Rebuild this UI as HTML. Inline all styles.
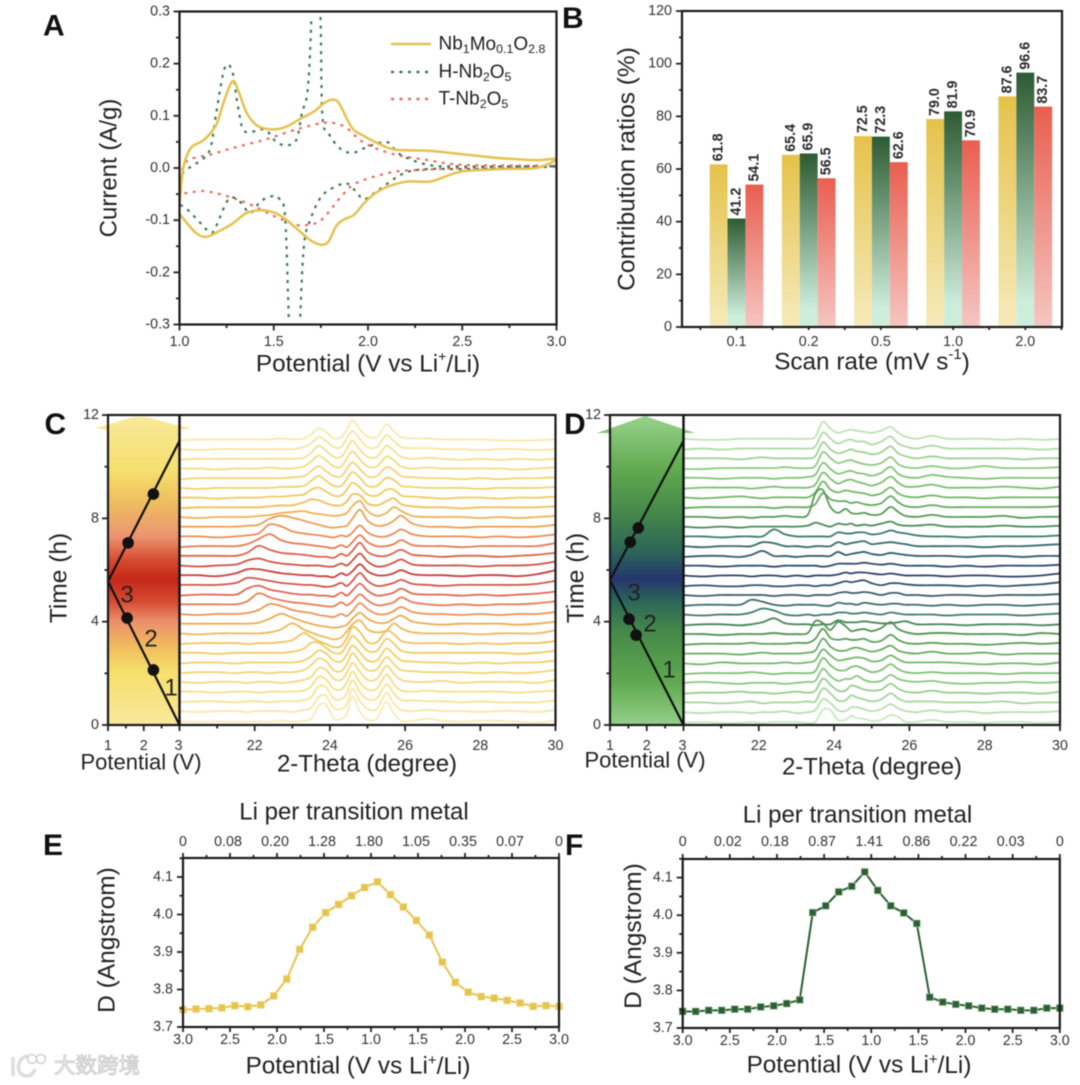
<!DOCTYPE html>
<html lang="en">
<head>
<meta charset="utf-8">
<title>Electrochemistry and in situ XRD figure</title>
<style>
html,body{margin:0;padding:0;background:#fff;width:1080px;height:1085px;overflow:hidden}
svg{display:block;filter:blur(.6px)}
text{font-family:"Liberation Sans","Noto Sans CJK SC",sans-serif;fill:#222}
.t{font-size:24.3px;text-anchor:middle;dominant-baseline:central}
.l{font-size:30px;font-weight:bold;fill:#111}
.n{font-size:24px;text-anchor:middle;dominant-baseline:central;fill:#222}
.lg{font-size:19px;dominant-baseline:central}
</style>
</head>
<body>
<svg id="figure" xmlns="http://www.w3.org/2000/svg" width="1080" height="1085" viewBox="0 0 1080 1085">
<defs>
<linearGradient id="gy" x1="0" y1="0" x2="0" y2="1"><stop offset="0" stop-color="#e5c24a"/><stop offset="1" stop-color="#f6ebbb"/></linearGradient>
<linearGradient id="gg" x1="0" y1="0" x2="0" y2="1"><stop offset="0" stop-color="#2d5b32"/><stop offset=".9" stop-color="#cdeedb"/><stop offset="1" stop-color="#cdeedb"/></linearGradient>
<linearGradient id="gr" x1="0" y1="0" x2="0" y2="1"><stop offset="0" stop-color="#e95f50"/><stop offset="1" stop-color="#f6c6c2"/></linearGradient>
<linearGradient id="stripC" gradientUnits="userSpaceOnUse" x1="0" y1="415" x2="0" y2="725">
<stop offset="0" stop-color="#f9ea9c"/><stop offset=".18" stop-color="#f6df6e"/><stop offset=".28" stop-color="#efbe5f"/><stop offset=".39" stop-color="#ec9570"/><stop offset=".47" stop-color="#d64a30"/><stop offset=".53" stop-color="#c5281a"/><stop offset=".60" stop-color="#d64a30"/><stop offset=".665" stop-color="#ec8f6c"/><stop offset=".745" stop-color="#f0bb5d"/><stop offset=".825" stop-color="#f6df6b"/><stop offset="1" stop-color="#f9e99c"/>
</linearGradient>
<linearGradient id="stripD" gradientUnits="userSpaceOnUse" x1="0" y1="415" x2="0" y2="725">
<stop offset="0" stop-color="#9ad28c"/><stop offset=".18" stop-color="#5fa94f"/><stop offset=".31" stop-color="#47894a"/><stop offset=".44" stop-color="#2c6658"/><stop offset=".53" stop-color="#25356e"/><stop offset=".6" stop-color="#2c6658"/><stop offset=".7" stop-color="#47894a"/><stop offset=".86" stop-color="#5fa94f"/><stop offset="1" stop-color="#94d08a"/>
</linearGradient>
<clipPath id="clipA"><rect x="179" y="17" width="378" height="302"/></clipPath>
<clipPath id="clipC"><rect x="180" y="415" width="376" height="310"/></clipPath>
<clipPath id="clipD"><rect x="684" y="415" width="376" height="310"/></clipPath>
</defs>

<rect width="1080" height="1085" fill="#fff"/>

<g id="panelA">
<text class="l" x="43" y="35.5">A</text>
<text class="t" x="368" y="364">Potential (V vs Li<tspan dy="-8" font-size="14">+</tspan><tspan dy="8">/Li)</tspan></text>
<text class="t" transform="translate(109 168) rotate(-90)" style="font-size:24px">Current (A/g)</text>
<g>
<line x1="391" x2="431" y1="44" y2="44" stroke="#e5c24f" stroke-width="2.6"/>
<text class="lg" x="438.5" y="44">Nb<tspan dy="5" font-size="12.4">1</tspan><tspan dy="-5">Mo</tspan><tspan dy="5" font-size="12.4">0.1</tspan><tspan dy="-5">O</tspan><tspan dy="5" font-size="12.4">2.8</tspan></text>
<line x1="391" x2="431" y1="72" y2="72" stroke="#3f7a55" stroke-width="2.4" stroke-dasharray="3 5.5"/>
<text class="lg" x="438.5" y="72">H-Nb<tspan dy="5" font-size="12.4">2</tspan><tspan dy="-5">O</tspan><tspan dy="5" font-size="12.4">5</tspan></text>
<line x1="391" x2="431" y1="99" y2="99" stroke="#ef6a5c" stroke-width="2.4" stroke-dasharray="3 5.5"/>
<text class="lg" x="438.5" y="99">T-Nb<tspan dy="5" font-size="12.4">2</tspan><tspan dy="-5">O</tspan><tspan dy="5" font-size="12.4">5</tspan></text>
</g>
</g>

<g id="panelB">
<text class="l" x="562" y="28">B</text>
<text class="t" x="872" y="362">Scan rate (mV s<tspan dy="-8" font-size="15">-1</tspan><tspan dy="8">)</tspan></text>
<text class="t" transform="translate(627 169) rotate(-90)" style="font-size:24.5px">Contribution ratios (%)</text>
</g>

<g id="panelC">
<path d="M95 428C115 424 125 417 140 417C155 417 165 424 192 428L179 430L179 725L108 725L108 430Z" fill="url(#stripC)"/>
<text class="l" x="44.5" y="434">C</text>
<text class="t" transform="translate(59 578) rotate(-90)" style="font-size:24.5px">Time (h)</text>
<text class="t" x="141" y="762" style="font-size:22px">Potential (V)</text>
<text class="t" x="367" y="764" style="font-size:24px">2-Theta (degree)</text>
</g>

<g id="panelD">
<path d="M597 433L645 416L695 433L683 433L683 725L610 725L610 433Z" fill="url(#stripD)"/>
<text class="l" x="564" y="434">D</text>
<text class="t" transform="translate(576 578) rotate(-90)" style="font-size:24.5px">Time (h)</text>
<text class="t" x="645" y="760" style="font-size:22px">Potential (V)</text>
<text class="t" x="872" y="767" style="font-size:24px">2-Theta (degree)</text>
</g>

<g id="panelE">
<text class="l" x="43" y="855">E</text>
<text class="t" x="354" y="812" style="font-size:24px">Li per transition metal</text>
<text class="t" x="358" y="1066">Potential (V vs Li<tspan dy="-6" font-size="15">+</tspan><tspan dy="6">/Li)</tspan></text>
<text class="t" transform="translate(107 940) rotate(-90)" style="font-size:24.5px">D (Angstrom)</text>
</g>

<g id="panelF">
<text class="l" x="565" y="855">F</text>
<text class="t" x="857.5" y="815" style="font-size:24px">Li per transition metal</text>
<text class="t" x="859" y="1065">Potential (V vs Li<tspan dy="-6" font-size="15">+</tspan><tspan dy="6">/Li)</tspan></text>
<text class="t" transform="translate(633.5 936) rotate(-90)" style="font-size:24.5px">D (Angstrom)</text>
</g>

<g>
<path d="M13 1057V1076M28 1056C16 1057 15 1076 27 1076C31 1076 34 1073 35 1069" fill="none" stroke="#dedede" stroke-width="3.6"/>
<circle cx="32" cy="1059" r="4.5" fill="none" stroke="#d2d2d2" stroke-width="1.6"/>
<circle cx="41" cy="1059" r="4.5" fill="none" stroke="#d2d2d2" stroke-width="1.6"/>
<text x="54" y="1073" style="font-size:21.5px;fill:#f4f4f4;stroke:#c9c9c9;stroke-width:.9px">大数跨境</text>
</g>
</svg>

<script>
/* ---------- Panel A: cyclic voltammetry ---------- */
const aYellowV = [1.0,1.01,1.02,1.04,1.07,1.13,1.195,1.233,1.28,1.31,1.356,1.413,1.49,1.565,1.64,1.716,1.773,1.82,1.85,1.915,1.98,2.075,2.15,2.32,2.51,2.7,2.89,3.0,2.89,2.7,2.51,2.435,2.33,2.21,2.11,2.04,1.98,1.925,1.87,1.83,1.79,1.75,1.697,1.64,1.565,1.507,1.43,1.356,1.28,1.205,1.138,1.08,1.0];
const aYellowI = [-0.07,-0.03,0,0.025,0.042,0.054,0.083,0.125,0.166,0.15,0.106,0.081,0.074,0.079,0.094,0.109,0.126,0.131,0.122,0.077,0.061,0.0435,0.035,0.033,0.026,0.019,0.015,0.017,0,-0.002,-0.006,-0.013,-0.026,-0.026,-0.035,-0.048,-0.067,-0.09,-0.099,-0.112,-0.141,-0.147,-0.139,-0.122,-0.099,-0.086,-0.081,-0.086,-0.107,-0.122,-0.132,-0.122,-0.088];
const aGreenV = [1.0,1.01,1.05,1.13,1.167,1.195,1.24,1.28,1.31,1.347,1.45,1.51,1.565,1.62,1.65,1.68,1.70,1.725,1.748,1.758,1.79,1.85,1.915,1.98,2.057,2.113,2.17,2.32,2.51,3.0,2.51,2.32,2.19,2.057,1.98,1.943,1.896,1.85,1.754,1.688,1.66,1.64,1.61,1.58,1.56,1.527,1.49,1.43,1.375,1.318,1.26,1.186,1.157,1.11,1.043,1.0];
const aGreenI = [-0.06,-0.016,0,0.019,0.042,0.106,0.192,0.185,0.118,0.07,0.074,0.051,0.0435,0.054,0.106,0.15,0.291,0.6,0.291,0.1,0.067,0.038,0.029,0.038,0.048,0.048,0.026,0.006,0.003,0.003,-0.002,-0.002,-0.01,-0.042,-0.06,-0.048,-0.031,-0.032,-0.054,-0.105,-0.15,-0.291,-0.6,-0.291,-0.093,-0.058,-0.054,-0.064,-0.086,-0.064,-0.06,-0.118,-0.122,-0.105,-0.08,-0.07];
const aRedV = [1.0,1.015,1.05,1.167,1.28,1.45,1.62,1.754,1.82,1.886,1.98,2.13,2.32,2.51,3.0,2.51,2.32,2.13,1.943,1.867,1.754,1.678,1.62,1.507,1.356,1.223,1.12,1.015,1.0];
const aRedI = [-0.02,-0.003,0.016,0.026,0.038,0.054,0.074,0.086,0.086,0.077,0.048,0.027,0.015,0.006,0.004,0,-0.003,-0.008,-0.028,-0.051,-0.099,-0.109,-0.109,-0.093,-0.067,-0.051,-0.044,-0.047,-0.02];
const aYTicks = [-0.3,-0.2,-0.1,0,0.1,0.2,0.3];
const aYTickLabels = ['-0.3','-0.2','-0.1','0.0','0.1','0.2','0.3'];
const aXTicks = [1,1.5,2,2.5,3];
const aXTickLabels = ['1.0','1.5','2.0','2.5','3.0'];

/* ---------- Panel B: contribution ratios ---------- */
const bCategories = ['0.1','0.2','0.5','1.0','2.0'];
const bNb1Mo = [61.8,65.4,72.5,79.0,87.6];
const bHNb2O5 = [41.2,65.9,72.3,81.9,96.6];
const bTNb2O5 = [54.1,56.5,62.6,70.9,83.7];
const bYTicks = [0,20,40,60,80,100,120];

/* ---------- Panels C and D: in situ XRD waterfall ---------- */
const twoTheta = [20,20.5,21,21.5,21.8,22.1,22.4,22.7,23,23.3,23.5,23.7,23.9,24.1,24.3,24.45,24.6,24.8,25,25.25,25.5,25.7,25.9,26.2,26.6,27,27.5,28,28.5,29,29.5,30];
const timeTicks = [0,4,8,12];
const thetaTicks = [22,24,26,28,30];
const potentialTicks = [1,2,3];
const cycleTimes = [0,5.56,11];
const cyclePotentials = [3,1,3];
const cDotPotentials = [2.27,1.535,1.563,2.27];
const cDotTimes = [2.13,4.14,7.05,8.94];
const dCycleTimes = [0,5.61,11];
const dDotPotentials = [1.71,1.52,1.55,1.77];
const dDotTimes = [3.48,4.10,7.08,7.63];
const cTraces = [
[0,0,0,0,0,0,0,1,0,1,3,16,17,3,3,8,25,10,2,3,20,8,1,1,3,1,0,1,1,0,-1,1],
[1,0,1,1,0,1,1,1,0,2,4,15,16,4,3,8,23,11,3,3,19,8,2,1,2,1,1,0,1,1,0,2],
[0,1,1,0,1,1,0,1,1,2,5,16,15,4,3,9,22,10,3,4,18,9,2,2,1,1,0,1,0,0,0,2],
[1,1,0,1,1,0,1,1,1,2,6,16,13,4,3,10,21,10,3,4,18,8,2,1,2,1,1,1,1,0,1,2],
[1,0,1,1,0,1,1,0,1,3,6,15,13,4,3,10,20,11,3,4,17,9,3,1,1,2,0,1,1,1,0,3],
[0,1,1,0,1,1,0,1,1,3,8,15,12,3,2,9,20,11,3,4,16,9,3,2,1,1,1,0,1,0,1,3],
[0,1,1,0,1,1,1,1,1,3,7,13,10,3,2,9,18,11,3,3,15,9,3,2,1,1,0,1,0,1,1,3],
[1,1,0,1,1,1,1,1,2,5,11,11,6,1,1,9,18,11,3,3,15,10,3,1,1,1,1,1,1,0,1,3],
[0,1,1,1,0,1,1,2,4,11,7,3,0,-3,-2,6,17,12,2,2,13,10,3,1,1,1,0,1,0,1,1,3],
[1,0,1,1,1,1,2,5,11,5,2,-1,-3,-5,-3,3,10,14,5,2,4,11,6,2,1,1,1,0,1,1,1,4],
[1,1,1,1,1,2,6,11,7,3,1,-1,-2,-3,-2,0,6,12,6,2,2,6,9,3,1,0,1,1,1,0,1,3],
[1,0,1,1,2,5,11,9,5,3,2,0,-1,-2,1,-1,4,12,6,1,1,4,8,3,1,1,0,1,0,1,1,3],
[1,1,1,1,4,12,8,5,3,2,1,0,-1,-1,3,0,4,11,5,0,1,3,8,3,1,0,1,0,1,1,2,4],
[0,1,1,1,7,10,6,4,2,1,1,0,0,-1,3,0,5,12,5,0,1,3,7,2,1,1,0,1,0,1,2,4],
[1,1,1,3,8,7,5,3,2,1,1,0,-1,0,3,0,5,13,5,0,1,3,6,2,1,0,1,1,1,1,2,5],
[1,1,0,3,7,7,5,3,2,1,1,0,0,-1,3,1,5,12,5,1,1,3,6,2,1,1,0,1,1,0,2,6],
[1,0,1,2,6,8,5,3,2,1,1,1,0,0,3,1,6,13,5,0,1,4,7,2,1,1,1,0,1,1,2,5],
[1,1,1,1,4,11,7,4,3,2,1,0,0,-1,3,1,6,14,5,1,1,4,7,2,1,0,1,1,0,1,2,4],
[0,1,1,1,3,8,13,7,4,3,2,1,0,-1,2,0,5,12,5,1,1,3,7,2,1,1,0,1,1,1,1,4],
[1,1,0,1,2,4,13,11,6,4,3,2,1,0,2,1,5,12,5,1,1,4,8,3,1,1,1,0,1,0,1,3],
[1,1,1,1,2,3,9,12,10,7,5,3,1,0,1,2,9,18,7,2,3,7,12,4,1,1,0,1,1,1,1,3],
[1,0,1,1,1,2,3,5,6,7,5,4,3,2,3,5,12,17,7,2,5,11,7,2,1,1,1,0,1,0,1,2],
[0,1,1,1,1,1,2,3,3,6,9,8,5,3,3,7,14,13,5,3,7,10,4,2,1,1,0,1,1,1,1,2],
[1,1,0,1,1,1,2,2,3,4,9,11,7,3,3,9,16,11,4,3,9,9,3,2,1,0,1,1,0,1,1,2],
[1,0,1,1,1,1,1,2,2,3,8,13,8,3,3,10,17,11,3,3,11,9,3,2,1,1,1,0,1,1,1,2],
[0,1,1,1,1,1,1,1,2,3,8,13,8,3,3,10,17,10,3,3,12,9,3,2,1,1,0,1,0,1,1,2],
[1,1,0,1,1,1,2,1,1,3,8,14,9,3,3,11,18,10,3,3,13,9,3,1,2,1,1,1,1,0,1,2],
[0,1,1,1,1,1,1,1,1,2,7,14,9,3,3,11,19,10,3,3,14,9,3,1,2,1,0,1,0,1,0,1],
[1,0,1,1,1,1,1,1,1,3,7,13,9,3,3,12,19,11,3,3,15,9,3,2,2,1,1,0,1,1,0,1],
[0,1,1,1,1,1,1,2,1,2,6,12,8,2,3,11,20,11,4,3,16,9,3,2,2,1,1,1,0,0,0,1]
];
const dTraces = [
[0,1,0,0,1,0,1,1,1,0,1,13,13,3,3,7,5,4,2,3,8,6,1,1,3,1,1,0,1,1,0,1],
[1,0,1,1,0,1,1,2,0,1,3,14,10,3,2,6,6,4,2,4,9,5,2,1,3,1,2,0,1,1,1,2],
[1,1,0,1,2,0,1,1,1,2,2,15,10,3,3,8,6,4,2,4,10,5,2,2,2,1,1,1,2,0,1,1],
[0,1,1,2,1,1,0,1,2,1,3,15,9,3,3,8,7,4,3,4,10,5,2,1,3,1,1,0,1,1,0,2],
[1,2,1,0,1,1,1,0,1,2,3,15,8,3,5,5,8,4,2,3,9,5,3,2,3,1,0,1,1,2,1,2],
[0,1,1,1,2,1,0,1,1,1,3,16,9,4,4,7,8,5,2,4,10,5,2,1,2,1,1,1,0,1,1,1],
[1,0,2,1,1,1,1,2,1,2,4,15,9,4,5,6,7,6,3,4,9,5,2,2,2,2,1,0,1,1,0,2],
[1,1,1,0,1,2,1,1,1,2,4,16,8,4,4,6,7,5,3,5,9,4,2,1,3,1,1,2,0,1,1,1],
[0,1,1,1,2,1,1,1,2,2,6,16,7,5,6,5,5,6,3,4,10,5,2,1,2,1,1,0,1,2,1,2],
[1,1,0,1,1,1,2,1,1,2,14,12,5,13,9,4,5,6,4,7,13,6,3,1,2,2,1,1,1,0,2,1],
[0,1,1,0,1,3,7,2,1,1,0,1,1,5,3,3,3,4,3,2,2,3,4,1,1,1,0,1,1,1,0,1],
[1,0,1,1,3,7,5,1,0,1,0,1,1,3,3,2,2,3,2,1,3,2,1,1,1,0,1,1,1,0,1,2],
[0,1,1,1,6,4,1,0,1,1,1,0,0,3,2,2,1,3,2,1,2,2,1,1,0,1,0,1,1,0,1,2],
[1,0,1,1,1,1,0,1,1,0,1,1,1,3,4,3,3,4,3,1,3,3,1,1,0,1,1,0,1,1,1,2],
[0,1,0,0,1,1,0,0,1,1,0,1,1,3,5,4,5,6,3,1,3,3,2,1,1,1,0,1,0,1,2,4],
[1,0,1,1,0,1,1,0,1,0,1,1,1,2,4,3,4,4,3,2,3,2,1,1,1,0,1,1,0,0,1,3],
[1,1,0,1,1,1,0,1,1,1,1,0,1,3,3,3,3,4,3,2,3,2,1,1,1,0,1,0,1,1,1,2],
[0,1,1,0,2,6,1,1,0,1,1,1,1,5,2,3,4,5,3,2,4,3,2,1,1,1,0,1,1,0,1,1],
[1,0,1,1,1,5,4,1,1,0,1,1,1,5,3,4,5,6,3,4,5,4,3,1,1,1,1,0,1,1,2,3],
[1,1,0,1,1,1,8,3,1,1,1,1,1,5,4,4,5,5,3,4,7,5,4,2,1,1,0,1,1,1,1,2],
[1,0,1,0,1,1,1,1,1,2,5,3,1,4,3,4,2,3,2,4,6,3,2,2,3,1,1,1,2,1,1,2],
[1,1,0,1,0,1,1,2,1,3,24,28,11,5,9,5,4,5,3,4,11,6,2,1,3,1,1,1,2,0,1,1],
[0,1,1,1,1,1,0,1,1,1,4,15,9,7,7,5,6,4,3,5,12,6,2,1,3,1,1,1,1,1,1,2],
[1,0,1,2,1,0,1,1,1,1,6,17,9,6,8,7,6,5,3,5,11,5,2,1,3,1,1,0,1,1,1,1],
[0,1,1,1,0,1,2,1,1,1,4,16,10,5,8,9,7,5,3,6,12,6,2,2,4,1,1,1,2,1,0,2],
[1,1,0,1,1,1,0,1,1,2,4,16,10,5,7,8,6,5,3,6,12,5,2,1,4,2,1,0,1,1,1,1],
[0,0,1,1,1,1,1,2,1,1,3,17,11,6,8,9,7,5,4,6,12,5,2,1,3,1,1,3,1,1,1,2],
[1,1,1,0,1,2,1,1,1,1,3,17,10,6,8,10,8,7,5,7,13,6,3,1,3,1,1,1,1,0,1,1],
[0,1,0,1,1,1,1,1,1,1,3,17,11,6,9,10,8,8,5,8,13,6,3,1,4,1,1,1,1,1,0,1],
[1,0,0,1,1,1,1,1,1,1,3,18,11,7,9,10,9,8,7,9,13,7,3,1,4,1,1,1,0,1,0,1]
];

/* ---------- Panels E and F: interlayer spacing ---------- */
const dTicks = [3.7,3.8,3.9,4.0,4.1];
const potentialPathLabels = ['3.0','2.5','2.0','1.5','1.0','1.5','2.0','2.5','3.0'];
const eSpacing = [3.746,3.748,3.749,3.751,3.757,3.754,3.759,3.783,3.828,3.907,3.966,4.005,4.027,4.05,4.072,4.087,4.053,4.02,3.984,3.945,3.873,3.819,3.793,3.781,3.777,3.771,3.764,3.755,3.757,3.755];
const fSpacing = [3.744,3.744,3.747,3.747,3.75,3.75,3.756,3.759,3.765,3.775,4.007,4.025,4.062,4.077,4.115,4.066,4.025,4.006,3.978,3.782,3.769,3.763,3.759,3.753,3.75,3.75,3.747,3.747,3.753,3.753];
const eLiLabels = ['0','0.08','0.20','1.28','1.80','1.05','0.35','0.07','0'];
const fLiLabels = ['0','0.02','0.18','0.87','1.41','0.86','0.22','0.03','0'];

const NS = 'http://www.w3.org/2000/svg';
function mk(tag, parent, attrs) {
  const e = document.createElementNS(NS, tag);
  for (const k in attrs) e.setAttribute(k, attrs[k]);
  parent.appendChild(e);
  return e;
}
function smooth(pts) {
  let d = 'M' + pts[0][0].toFixed(2) + ' ' + pts[0][1].toFixed(2);
  for (let i = 0; i < pts.length - 1; i++) {
    const p0 = pts[Math.max(i - 1, 0)], p1 = pts[i], p2 = pts[i + 1], p3 = pts[Math.min(i + 2, pts.length - 1)];
    const c1x = p1[0] + (p2[0] - p0[0]) / 6, c1y = p1[1] + (p2[1] - p0[1]) / 6;
    const c2x = p2[0] - (p3[0] - p1[0]) / 6, c2y = p2[1] - (p3[1] - p1[1]) / 6;
    d += 'C' + c1x.toFixed(2) + ' ' + c1y.toFixed(2) + ' ' + c2x.toFixed(2) + ' ' + c2y.toFixed(2) + ' ' + p2[0].toFixed(2) + ' ' + p2[1].toFixed(2);
  }
  return d;
}
function hexMix(a, b, f) {
  const pa = [1, 3, 5].map(i => parseInt(a.substr(i, 2), 16));
  const pb = [1, 3, 5].map(i => parseInt(b.substr(i, 2), 16));
  return 'rgb(' + pa.map((v, i) => Math.round(v + (pb[i] - v) * f)).join(',') + ')';
}
function ramp(stops, y) {
  for (let i = 0; i < stops.length - 1; i++) {
    if (y <= stops[i + 1][0]) {
      const f = Math.max(0, (y - stops[i][0]) / (stops[i + 1][0] - stops[i][0]));
      return hexMix(stops[i][1], stops[i + 1][1], f);
    }
  }
  return stops[stops.length - 1][1];
}
function frame(parent, x0, y0, x1, y1, name) {
  const r = mk('rect', parent, {x: x0, y: y0, width: x1 - x0, height: y1 - y0, fill: 'none', stroke: '#1a1a1a', 'stroke-width': 2.2});
  
  
  return r;
}
function tick(parent, x1, y1, x2, y2, w) {
  const t = mk('line', parent, {x1: x1, y1: y1, x2: x2, y2: y2, stroke: '#222', 'stroke-width': w || 1.8});
  
  
  return t;
}
function label(parent, str, x, y, anchor, size) {
  const t = mk('text', parent, {x: x, y: y, 'text-anchor': anchor, 'dominant-baseline': 'central', 'font-size': size || 14.3, style: 'fill:#333'});
  t.textContent = str;
  
  
  return t;
}

/* Panel A */
(function () {
  const g = document.getElementById('panelA');
  const x = v => 179.5 + (v - 1) * 188.5;
  const y = v => 168 - v * 521.7;
  const clip = mk('g', g, {'clip-path': 'url(#clipA)'});
  
  
  const red = mk('path', clip, {d: smooth(aRedV.map((v, i) => [x(v), y(aRedI[i])])), fill: 'none', stroke: '#ef6a5c', 'stroke-width': 2.2, 'stroke-dasharray': '3 5.5'});
  
  
  const green = mk('path', clip, {d: smooth(aGreenV.map((v, i) => [x(v), y(aGreenI[i])])), fill: 'none', stroke: '#3f7a55', 'stroke-width': 2.2, 'stroke-dasharray': '3 5.5'});
  
  
  const yellow = mk('path', clip, {d: smooth(aYellowV.map((v, i) => [x(v), y(aYellowI[i])])), fill: 'none', stroke: '#e5c24f', 'stroke-width': 2.5});
  
  
  frame(g, 179.5, 11.5, 556.5, 324.5, 'a-plot-frame');
  aYTicks.forEach((v, i) => {
    tick(g, 173.5, y(v), 179.5, y(v));
    label(g, aYTickLabels[i], 170, y(v), 'end');
    if (i < aYTicks.length - 1) tick(g, 176, y(v + 0.05), 179.5, y(v + 0.05));
  });
  aXTicks.forEach((v, i) => {
    tick(g, x(v), 324.5, x(v), 330.5);
    label(g, aXTickLabels[i], x(v), 342, 'middle');
    if (i < aXTicks.length - 1) tick(g, x(v + 0.25), 324.5, x(v + 0.25), 328);
  });
})();

/* Panel B */
(function () {
  const g = document.getElementById('panelB');
  const y = v => 327 - v * 2.633;
  const cx = c => 736.5 + c * 72.2;
  const groups = [[bNb1Mo, 'gy', 'nb1mo'], [bHNb2O5, 'gg', 'h-nb2o5'], [bTNb2O5, 'gr', 't-nb2o5']];
  bCategories.forEach((cat, c) => {
    groups.forEach((s, j) => {
      const bx = cx(c) + (j - 1.5) * 17.9;
      const v = s[0][c];
      const bar = mk('rect', g, {x: bx, y: y(v), width: 17.9, height: 327 - y(v), fill: 'url(#' + s[1] + ')'});
      
      
      const lx = bx + 8.95, ly = y(v) - 3;
      const t = mk('text', g, {x: 0, y: 0, transform: 'translate(' + lx + ' ' + ly + ') rotate(-90)', 'dominant-baseline': 'central', 'font-size': 14.3, 'font-weight': 'bold', style: 'fill:#2a2a2a'});
      t.textContent = v.toFixed(1);
      
      
    });
    label(g, cat, cx(c), 342, 'middle');
  });
  frame(g, 682, 11, 1062, 327, 'b-plot-frame');
  bYTicks.forEach((v, i) => {
    tick(g, 676, y(v), 682, y(v));
    label(g, String(v), 672, y(v), 'end');
    if (i < bYTicks.length - 1) tick(g, 679, y(v + 10), 682, y(v + 10));
  });
  for (let c = -0.5; c <= 4.5; c += 0.5) tick(g, cx(c), 327, cx(c), 330);
})();

/* Panels C and D */
function waterfall(cfg) {
  const g = document.getElementById(cfg.id);
  const ty = t => 725 - t * 25.83;
  const vx = v => cfg.sx0 + (v - 1) * (cfg.sx1 - cfg.sx0) / 2;
  const tx = a => cfg.sx1 + (a - 20) * (cfg.px1 - cfg.sx1) / 10;
  const clip = mk('g', g, {'clip-path': 'url(#' + cfg.clip + ')', fill: 'none'});
  
  
  for (let i = cfg.traces.length - 1; i >= 0; i--) {
    const base = ty(cfg.t0 + i * cfg.step);
    const pts = twoTheta.map((a, k) => [tx(a), base - cfg.traces[i][k]]);
    const p = mk('path', clip, {d: smooth(pts), stroke: ramp(cfg.ramp, base), 'stroke-width': 1.8, 'stroke-linejoin': 'round'});
    
    
  }
  const v = mk('path', g, {d: 'M' + cfg.cycleP.map((p, i) => vx(p) + ' ' + ty(cfg.cycleT[i])).join('L'), fill: 'none', stroke: '#111', 'stroke-width': 2.2});
  
  
  cfg.dotP.forEach((p, i) => {
    const d = mk('circle', g, {cx: vx(p), cy: ty(cfg.dotT[i]), r: 5.8, fill: '#111'});
    
    
  });
  cfg.nums.forEach(n => {
    const t = mk('text', g, {x: n[1], y: n[2], class: 'n'});
    t.textContent = n[0];
    
    
  });
  frame(g, cfg.sx0, 415, cfg.px1, 725, cfg.key + '-plot-frame');
  const div = mk('line', g, {x1: cfg.sx1, x2: cfg.sx1, y1: 415, y2: 725, stroke: '#111', 'stroke-width': 2.4});
  
  
  timeTicks.forEach((t, i) => {
    tick(g, cfg.sx0 - 6, ty(t), cfg.sx0, ty(t));
    label(g, String(t), cfg.sx0 - 9, ty(t), 'end');
    if (i < timeTicks.length - 1) tick(g, cfg.sx0 - 3.5, ty(t + 2), cfg.sx0, ty(t + 2));
  });
  potentialTicks.forEach((p, i) => {
    tick(g, vx(p), 725, vx(p), 731);
    label(g, String(p), vx(p) - (i === 2 ? 1 : 0), 746, 'middle');
    if (i < 2) tick(g, vx(p + 0.5), 725, vx(p + 0.5), 728.5);
  });
  thetaTicks.forEach(a => {
    tick(g, tx(a), 725, tx(a), 731);
    label(g, String(a), tx(a), 746, 'middle');
    tick(g, tx(a - 1), 725, tx(a - 1), 728.5);
  });
}
waterfall({
  id: 'panelC', key: 'c', clip: 'clipC', sx0: 108, sx1: 179.5, px1: 555.5, t0: 0.128, step: 0.3755, traces: cTraces,
  cycleP: cyclePotentials, cycleT: cycleTimes, dotP: cDotPotentials, dotT: cDotTimes,
  nums: [['1', 171, 688], ['2', 151, 639], ['3', 127, 595]],
  ramp: [[440,'#f9e8ae'],[470,'#f5db7e'],[500,'#f2c95e'],[520,'#efae52'],[545,'#e97f55'],[575,'#c73e3a'],[600,'#e8705a'],[625,'#eeac52'],[650,'#f2c95e'],[690,'#f6dd82'],[722,'#faeab8']]
});
waterfall({
  id: 'panelD', key: 'd', clip: 'clipD', sx0: 610, sx1: 683.5, px1: 1060, t0: 0.08, step: 0.378, traces: dTraces,
  cycleP: cyclePotentials, cycleT: dCycleTimes, dotP: dDotPotentials, dotT: dDotTimes,
  nums: [['1', 669, 670], ['2', 650, 624], ['3', 634, 593]],
  ramp: [[440,'#bfe3b3'],[470,'#8ccb7f'],[500,'#6fb765'],[525,'#4d8f4f'],[538,'#3d7c6c'],[575,'#2f3f70'],[615,'#3f7a6a'],[632,'#4d8f4f'],[660,'#6db565'],[700,'#9bd390'],[722,'#c9e9bf']]
});

/* Panels E and F */
function spacing(cfg) {
  const g = document.getElementById(cfg.id);
  const x = p => cfg.x0 + p * (cfg.x1 - cfg.x0) / 4;
  const y = v => cfg.y37 - (v - 3.7) * cfg.ky;
  const pts = cfg.values.map((v, i) => [x(i * 4 / (cfg.values.length - 1)), y(v)]);
  const line = mk('path', g, {d: 'M' + pts.map(p => p[0].toFixed(2) + ' ' + p[1].toFixed(2)).join('L'), fill: 'none', stroke: cfg.color, 'stroke-width': 2});
  
  
  pts.forEach(p => {
    const s = mk('rect', g, {x: p[0] - 3.5, y: p[1] - 3.5, width: 7, height: 7, fill: cfg.color, stroke: cfg.edge, 'stroke-width': .7});
    
    
  });
  frame(g, cfg.x0, cfg.top, cfg.x1, cfg.y37, cfg.key + '-plot-frame');
  dTicks.forEach((v, i) => {
    tick(g, cfg.x0 - 6, y(v), cfg.x0, y(v));
    label(g, v.toFixed(1), cfg.x0 - 10, y(v), 'end');
    if (i < dTicks.length) tick(g, cfg.x0 - 3.5, y(v + 0.05), cfg.x0, y(v + 0.05));
  });
  potentialPathLabels.forEach((s, i) => {
    tick(g, x(i * 0.5), cfg.y37, x(i * 0.5), cfg.y37 + 5);
    tick(g, x(i * 0.5), cfg.top, x(i * 0.5), cfg.top - 5);
    label(g, s, x(i * 0.5), cfg.y37 + 13, 'middle');
    label(g, cfg.top_labels[i], x(i * 0.5) - (i > 0 && i < 8 ? 2 : 0), 842, 'middle');
    if (i < 8) {
      tick(g, x(i * 0.5 + 0.25), cfg.y37, x(i * 0.5 + 0.25), cfg.y37 + 3);
      tick(g, x(i * 0.5 + 0.25), cfg.top, x(i * 0.5 + 0.25), cfg.top - 3);
    }
  });
}
spacing({id: 'panelE', key: 'e', x0: 183, x1: 559, y37: 1027, top: 858, ky: 375, values: eSpacing, color: '#e5c44f', edge: '#f2de95', top_labels: eLiLabels});
spacing({id: 'panelF', key: 'f', x0: 682.7, x1: 1059.8, y37: 1028, top: 859, ky: 376, values: fSpacing, color: '#2d5e35', edge: '#a9cfa8', top_labels: fLiLabels});
</script>
</body>
</html>
